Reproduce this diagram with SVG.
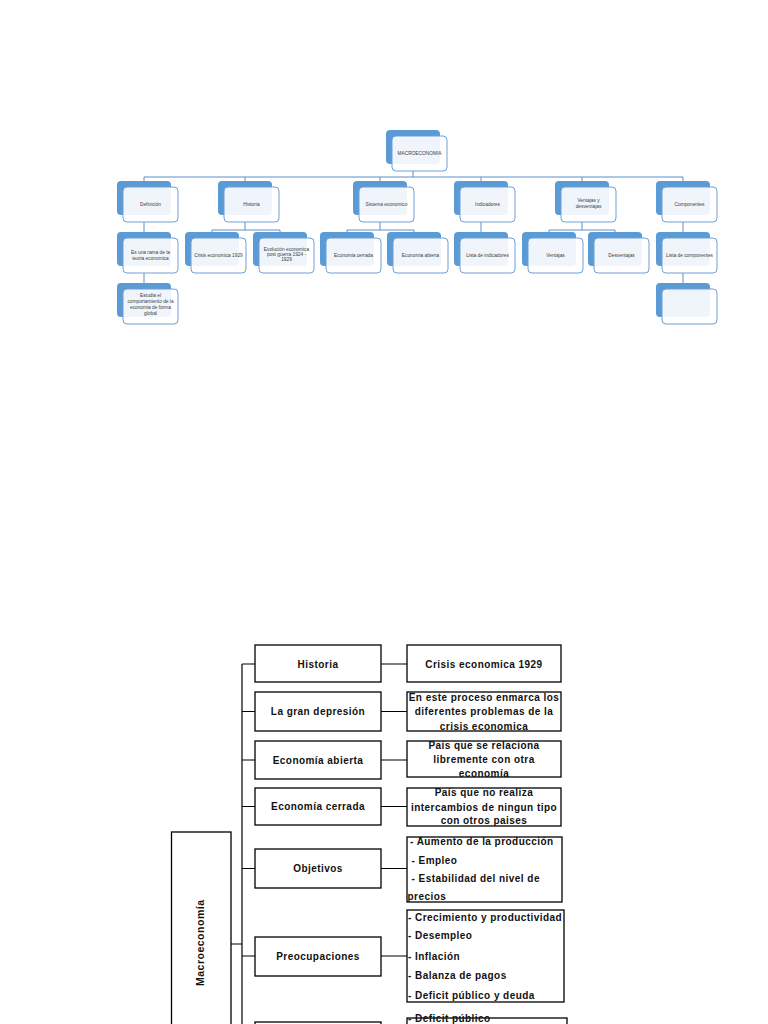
<svg xmlns="http://www.w3.org/2000/svg" width="768" height="1024" viewBox="0 0 768 1024">
<style>
.bk{fill:#5b9bd5;}
.fr{fill:#ffffff;fill-opacity:0.9;stroke:#6f9fd6;stroke-width:1;}
.t{font-family:"Liberation Sans",Arial,sans-serif;font-size:4.8px;fill:#404040;text-anchor:middle;}
.con{stroke:#5b8fc9;stroke-width:1;fill:none;}
.bx{fill:#ffffff;stroke:#000;stroke-width:1.3;}
.bl{stroke:#000;stroke-width:1.2;fill:none;}
.b{font-family:"Liberation Sans",Arial,sans-serif;font-size:10px;font-weight:bold;fill:#111;text-anchor:middle;letter-spacing:0.45px;}
.bL{font-family:"Liberation Sans",Arial,sans-serif;font-size:10px;font-weight:bold;fill:#111;letter-spacing:0.45px;}
</style>
<rect width="768" height="1024" fill="#ffffff"/>

<!-- top connectors -->
<g id="top-connectors">
<path class="con" d="M413 171V177M144 177H683M144 177V181M245 177V181M380 177V181M481 177V181M582 177V181M683 177V181"/>
<path class="con" d="M144 222V232M245 222V230M212 230H280M212 230V232M280 230V232"/>
<path class="con" d="M380 222V230M347 230H414M347 230V232M414 230V232"/>
<path class="con" d="M481 222V232M582 222V230M549 230H615M549 230V232M615 230V232M683 222V232"/>
<path class="con" d="M144 273V283M683 273V283"/>
</g>

<g id="n-macro"><rect class="bk" x="386" y="130" width="54" height="34" rx="4"/><rect class="fr" x="392" y="136" width="55" height="35" rx="4"/><text class="t" x="419.5" y="155">MACROECONOMIA</text></g>

<g id="n-definicion"><rect class="bk" x="117" y="181" width="54" height="34" rx="4"/><rect class="fr" x="123" y="187" width="55" height="35" rx="4"/><text class="t" x="150.5" y="206">Definición</text></g>
<g id="n-historia"><rect class="bk" x="218" y="181" width="54" height="34" rx="4"/><rect class="fr" x="224" y="187" width="55" height="35" rx="4"/><text class="t" x="251.5" y="206">Historia</text></g>
<g id="n-sistema"><rect class="bk" x="353" y="181" width="54" height="34" rx="4"/><rect class="fr" x="359" y="187" width="55" height="35" rx="4"/><text class="t" x="386.5" y="206">Sistema economico</text></g>
<g id="n-indicadores"><rect class="bk" x="454" y="181" width="54" height="34" rx="4"/><rect class="fr" x="460" y="187" width="55" height="35" rx="4"/><text class="t" x="487.5" y="206">Indicadores</text></g>
<g id="n-ventajas-desventajas"><rect class="bk" x="555" y="181" width="54" height="34" rx="4"/><rect class="fr" x="561" y="187" width="55" height="35" rx="4"/><text class="t" x="588.5" y="201.5">Ventajas y</text><text class="t" x="588.5" y="207.5">desventajas</text></g>
<g id="n-componentes"><rect class="bk" x="656" y="181" width="54" height="34" rx="4"/><rect class="fr" x="662" y="187" width="55" height="35" rx="4"/><text class="t" x="689.5" y="206">Componentes</text></g>

<g id="n-rama"><rect class="bk" x="117" y="232" width="54" height="34" rx="4"/><rect class="fr" x="123" y="238" width="55" height="35" rx="4"/><text class="t" x="150.5" y="253.5">Es una rama de la</text><text class="t" x="150.5" y="259.8">teoria economica</text></g>
<g id="n-crisis"><rect class="bk" x="185" y="232" width="54" height="34" rx="4"/><rect class="fr" x="191" y="238" width="55" height="35" rx="4"/><text class="t" x="218.5" y="257">Crisis economica 1929</text></g>
<g id="n-evolucion"><rect class="bk" x="253" y="232" width="54" height="34" rx="4"/><rect class="fr" x="259" y="238" width="55" height="35" rx="4"/><text class="t" x="286.5" y="250.6">Evolución economica</text><text class="t" x="286.5" y="256">post guerra 1924 -</text><text class="t" x="286.5" y="261.4">1929</text></g>
<g id="n-cerrada"><rect class="bk" x="320" y="232" width="54" height="34" rx="4"/><rect class="fr" x="326" y="238" width="55" height="35" rx="4"/><text class="t" x="353.5" y="257">Economia cerrada</text></g>
<g id="n-abierta"><rect class="bk" x="387" y="232" width="54" height="34" rx="4"/><rect class="fr" x="393" y="238" width="55" height="35" rx="4"/><text class="t" x="420.5" y="257">Economia abierta</text></g>
<g id="n-lista-ind"><rect class="bk" x="454" y="232" width="54" height="34" rx="4"/><rect class="fr" x="460" y="238" width="55" height="35" rx="4"/><text class="t" x="487.5" y="257">Lista de indicadores</text></g>
<g id="n-ventajas"><rect class="bk" x="522" y="232" width="54" height="34" rx="4"/><rect class="fr" x="528" y="238" width="55" height="35" rx="4"/><text class="t" x="555.5" y="257">Ventajas</text></g>
<g id="n-desventajas"><rect class="bk" x="588" y="232" width="54" height="34" rx="4"/><rect class="fr" x="594" y="238" width="55" height="35" rx="4"/><text class="t" x="621.5" y="257">Desventajas</text></g>
<g id="n-lista-comp"><rect class="bk" x="656" y="232" width="54" height="34" rx="4"/><rect class="fr" x="662" y="238" width="55" height="35" rx="4"/><text class="t" x="689.5" y="257">Lista de componentes</text></g>

<g id="n-estudia"><rect class="bk" x="117" y="283" width="54" height="34" rx="4"/><rect class="fr" x="123" y="289" width="55" height="35" rx="4"/><text class="t" x="150.5" y="297.4">Estudia el</text><text class="t" x="150.5" y="303.3">comportamiento de la</text><text class="t" x="150.5" y="309.2">economia de forma</text><text class="t" x="150.5" y="315.1">global</text></g>
<g id="n-empty"><rect class="bk" x="656" y="283" width="54" height="34" rx="4"/><rect class="fr" x="662" y="289" width="55" height="35" rx="4"/></g>

<!-- bottom diagram -->
<g id="bottom-connectors">
<path class="bl" d="M242 664V1024M231 944H242"/>
<path class="bl" d="M242 664H255M242 711.5H255M242 760H255M242 806.5H255M242 868.5H255M242 956H255"/>
<path class="bl" d="M381 664H407M381 711.5H407M381 760H407M381 806.5H407M381 868.5H407M381 956H407"/>
</g>

<g id="b-macro"><rect class="bx" x="171.5" y="832" width="59.5" height="200"/><text class="b" transform="translate(204 943) rotate(-90)" textLength="86" lengthAdjust="spacing" style="font-size:10.5px;letter-spacing:0">Macroeconomía</text></g>

<g id="b-historia"><rect class="bx" x="255" y="645" width="126" height="37"/><text class="b" x="318" y="667.5">Historia</text></g>
<g id="b-depresion"><rect class="bx" x="255" y="692" width="126" height="39"/><text class="b" x="318" y="715">La gran depresión</text></g>
<g id="b-abierta"><rect class="bx" x="255" y="741" width="126" height="38"/><text class="b" x="318" y="763.5">Economía abierta</text></g>
<g id="b-cerrada"><rect class="bx" x="255" y="788" width="126" height="37"/><text class="b" x="318" y="810">Economía cerrada</text></g>
<g id="b-objetivos"><rect class="bx" x="255" y="849" width="126" height="39"/><text class="b" x="318" y="872">Objetivos</text></g>
<g id="b-preocupaciones"><rect class="bx" x="255" y="937" width="126" height="39"/><text class="b" x="318" y="959.5">Preocupaciones</text></g>
<g id="b-next"><rect class="bx" x="255" y="1022" width="126" height="20"/></g>

<g id="r-crisis"><rect class="bx" x="407" y="645" width="154" height="37"/><text class="b" x="484" y="667.5">Crisis economica 1929</text></g>
<g id="r-depresion"><rect class="bx" x="407" y="692" width="154" height="39"/><text class="b" x="484" y="700.5">En este proceso enmarca los</text><text class="b" x="484" y="715">diferentes problemas de la</text><text class="b" x="484" y="729.5">crisis economica</text></g>
<g id="r-abierta"><rect class="bx" x="407" y="741" width="154" height="36"/><text class="b" x="484" y="748.5">País que se relaciona</text><text class="b" x="484" y="763">libremente con otra</text><text class="b" x="484" y="777">economía</text></g>
<g id="r-cerrada"><rect class="bx" x="407" y="788" width="154" height="38"/><text class="b" x="484" y="796">País que no realiza</text><text class="b" x="484" y="810.5">intercambios de ningun tipo</text><text class="b" x="484" y="824">con otros paises</text></g>
<g id="r-objetivos"><rect class="bx" x="407" y="837" width="155" height="65"/><text class="bL" x="410" y="845">- Aumento de la producción</text><text class="bL" x="411.5" y="864">- Empleo</text><text class="bL" x="411.5" y="882">- Estabilidad del nivel de</text><text class="bL" x="407.5" y="899.5">precios</text></g>
<g id="r-preocupaciones"><rect class="bx" x="407" y="910" width="157" height="92"/><text class="bL" x="408" y="921">- Crecimiento y productividad</text><text class="bL" x="408" y="939">- Desempleo</text><text class="bL" x="408" y="959.5">- Inflación</text><text class="bL" x="408" y="979">- Balanza de pagos</text><text class="bL" x="408" y="999">- Deficit público y deuda</text></g>
<g id="r-next"><rect class="bx" x="407" y="1018" width="160" height="30"/><text class="bL" x="408" y="1021.5">- Deficit público</text></g>
</svg>
